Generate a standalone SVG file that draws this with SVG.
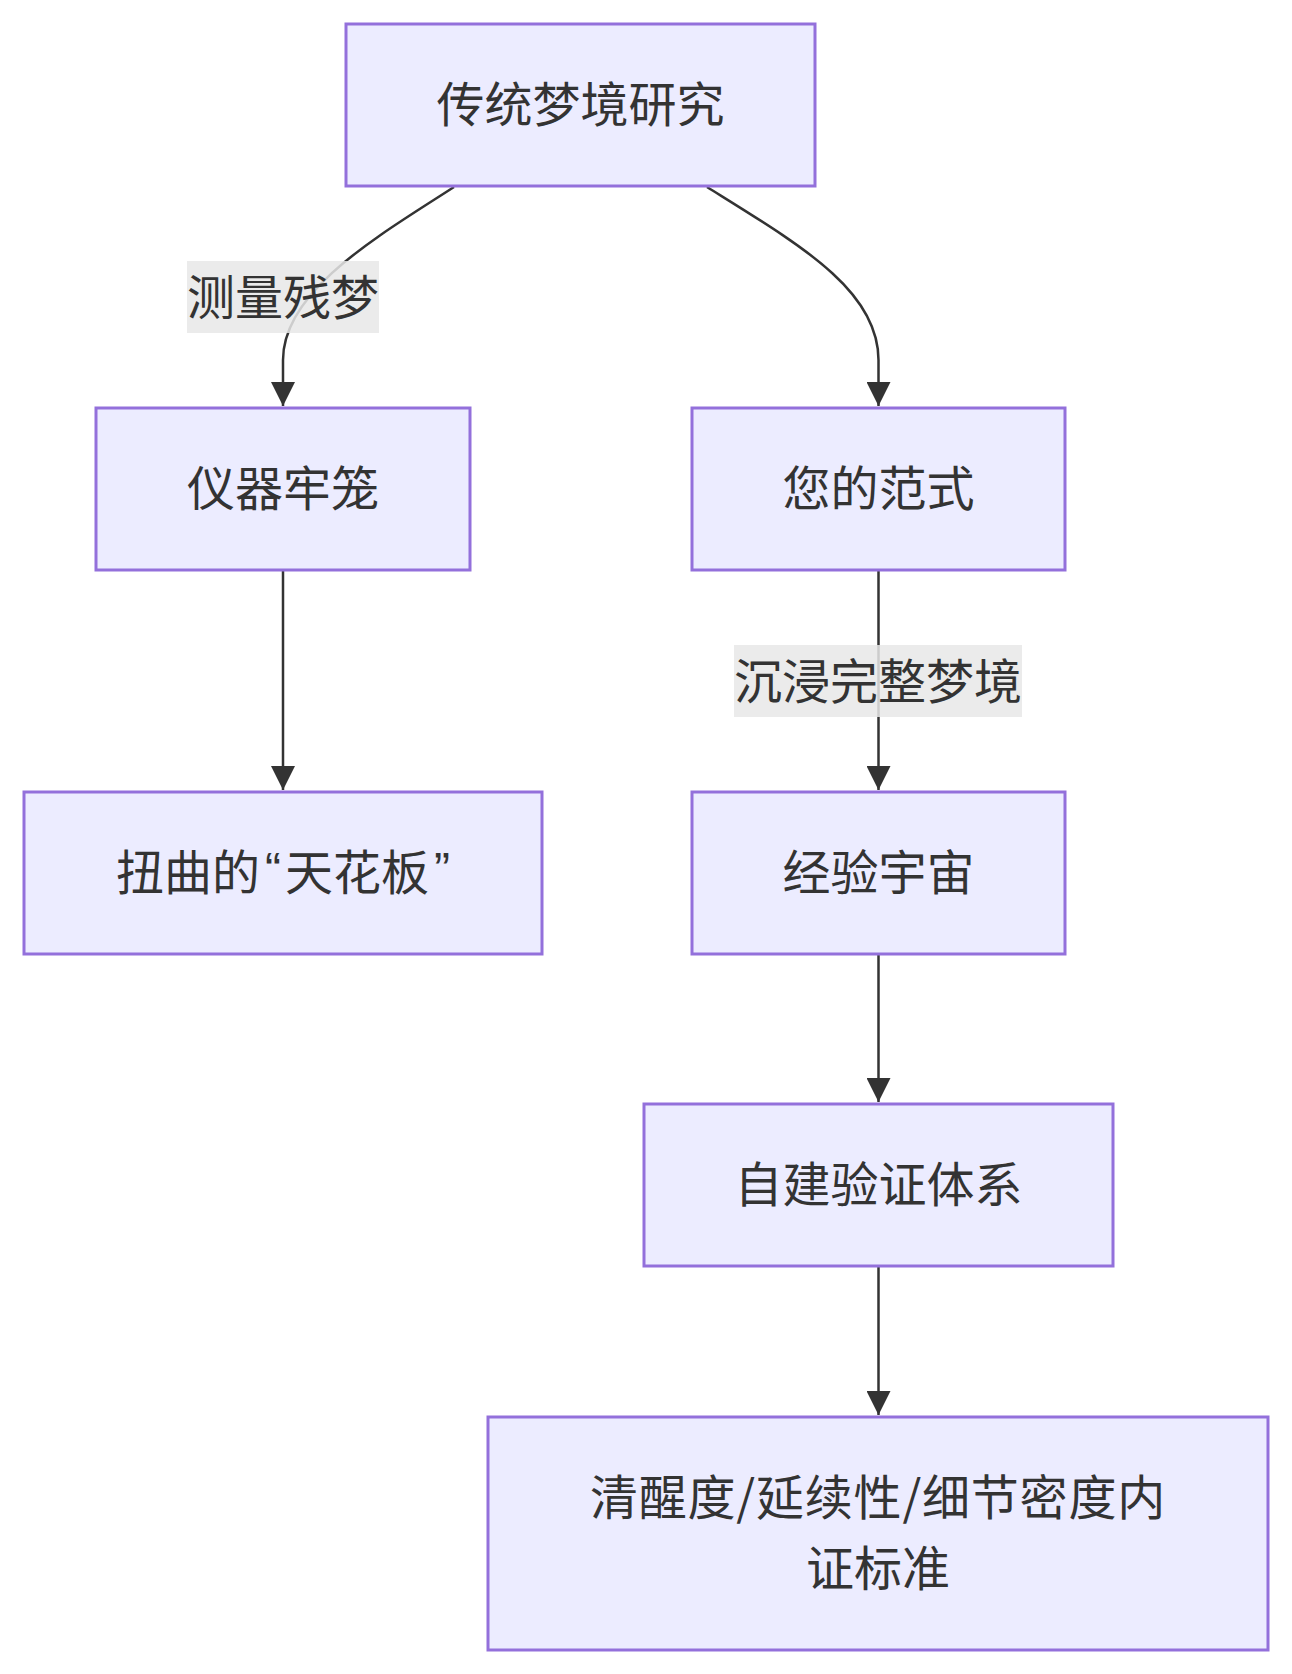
<svg xmlns="http://www.w3.org/2000/svg" width="1292" height="1674" viewBox="0 0 1292 1674">
<style>
.node rect{fill:#ECECFF;stroke:#9370DB;stroke-width:3}
text{font-family:"Noto Sans CJK SC","Liberation Sans",sans-serif;font-size:48px;fill:#333;text-anchor:middle;dominant-baseline:central}
.q{font-family:"Liberation Sans","Noto Sans CJK SC",sans-serif}
.edge{fill:none;stroke:#333;stroke-width:2.5}
.lbl rect{fill:#e8e8e8;fill-opacity:0.85}
</style>
<defs>
<marker id="arrow" markerUnits="userSpaceOnUse" markerWidth="24" markerHeight="24" viewBox="0 0 10 10" refX="10" refY="5" orient="auto">
<path d="M0,0 L10,5 L0,10 z" fill="#333"/>
</marker>
</defs>
<rect width="1292" height="1674" fill="#fff"/>
<g id="edges">
<path class="edge" d="M454,187 C380,235 283,290 283,360 L283,406" marker-end="url(#arrow)"/>
<path class="edge" d="M707,187 C800,245 878.5,290 878.5,360 L878.5,406" marker-end="url(#arrow)"/>
<path class="edge" d="M283,570 L283,790" marker-end="url(#arrow)"/>
<path class="edge" d="M878.5,570 L878.5,790" marker-end="url(#arrow)"/>
<path class="edge" d="M878.5,954 L878.5,1102" marker-end="url(#arrow)"/>
<path class="edge" d="M878.5,1266 L878.5,1415" marker-end="url(#arrow)"/>
<g class="lbl" id="label-AB"><rect x="187" y="261" width="192" height="72"/><text x="283" y="294">测量残梦</text></g>
<g class="lbl" id="label-CE"><rect x="734" y="645" width="288" height="72"/><text x="878" y="678">沉浸完整梦境</text></g>
</g>
<g id="nodeA" class="node"><rect x="346" y="24" width="469" height="162"/><text x="580.5" y="101">传统梦境研究</text></g>
<g id="nodeB" class="node"><rect x="96" y="408" width="374" height="162"/><text x="283" y="485">仪器牢笼</text></g>
<g id="nodeC" class="node"><rect x="692" y="408" width="373" height="162"/><text x="878.5" y="485">您的范式</text></g>
<g id="nodeD" class="node"><rect x="24" y="792" width="518" height="162"/><text x="283" y="869">扭曲的<tspan class="q" dx="5">“</tspan><tspan dx="4">天花板</tspan><tspan class="q" dx="5">”</tspan></text></g>
<g id="nodeE" class="node"><rect x="692" y="792" width="373" height="162"/><text x="878.5" y="869">经验宇宙</text></g>
<g id="nodeF" class="node"><rect x="644" y="1104" width="469" height="162"/><text x="878.5" y="1181">自建验证体系</text></g>
<g id="nodeG" class="node"><rect x="488" y="1417" width="780" height="233"/><text x="878" y="1494" letter-spacing="0.8">清醒度/延续性/细节密度内</text><text x="878" y="1565">证标准</text></g>
</svg>
